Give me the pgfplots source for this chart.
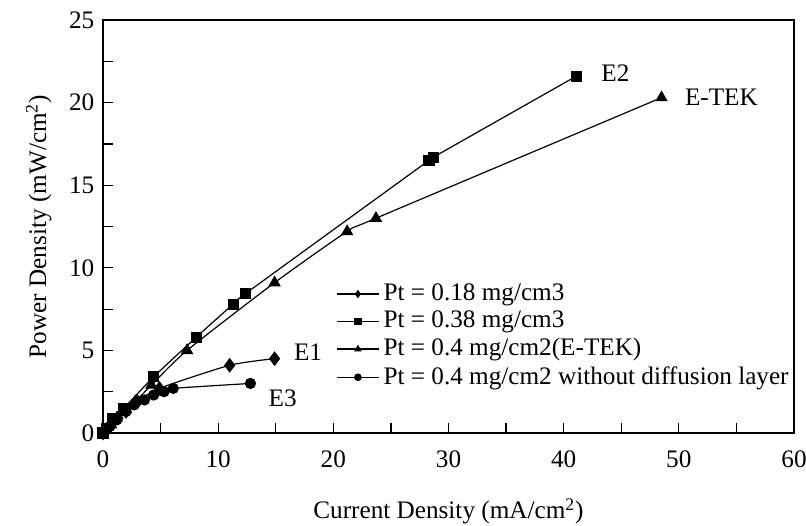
\documentclass[border=0pt]{standalone}
\usepackage{pgfplots}
\pgfplotsset{compat=1.18}
\usepackage{fontspec}
\setmainfont{Liberation Serif}

% power density curves
\pgfplotstableread{
x y
0 0
0.3 0.2
0.7 0.5
1.3 0.9
2.0 1.3
3.0 1.9
4.9 2.7
11.0 4.1
14.9 4.5
}\eone
\pgfplotstableread{
x y
0 0
0.3 0.25
0.8 0.9
1.8 1.5
4.4 3.4
8.1 5.8
11.3 7.8
12.4 8.45
28.3 16.5
28.7 16.7
41.1 21.6
}\etwo
\pgfplotstableread{
x y
0 0
0.3 0.2
0.7 0.5
1.2 0.9
2.0 1.4
2.8 1.9
4.2 2.9
7.3 5.0
14.9 9.1
21.2 12.2
23.7 13.0
48.5 20.3
}\etek
\pgfplotstableread{
x y
0 0
0.2 0.15
0.6 0.4
1.2 0.8
2.0 1.3
2.7 1.7
3.6 2.0
4.4 2.3
5.3 2.5
6.1 2.7
12.8 3.0
}\ethree

\def\chartfont{\fontsize{12.6}{14}\selectfont}

\begin{document}
\chartfont
\begin{tikzpicture}
\useasboundingbox (0,0) rectangle (403pt,262.5pt);
\begin{axis}[
  at={(51.5pt,46pt)}, anchor=south west,
  scale only axis,
  width=345.5pt, height=206.5pt,
  xmin=0, xmax=60, ymin=0, ymax=25,
  xtick={0,10,...,60}, ytick={0,5,...,25},
  minor x tick num=1, minor y tick num=1,
  xtick pos=bottom, ytick pos=left,
  tick align=inside,
  major tick length=5pt, minor tick length=5pt,
  tick style={black, line width=0.6pt},
  axis line style={line width=0.6pt},
  /pgf/number format/assume math mode=true,
  tick label style={font=\chartfont},
  xticklabel style={yshift=-4.5pt},
  label style={font=\chartfont},
  xlabel={Current Density (mA/cm\textsuperscript{2})},
  ylabel={Power Density (mW/cm\textsuperscript{2})},
  xlabel style={at={(axis description cs:0.5,-0.19)}, anchor=center},
  ylabel style={at={(axis description cs:-0.093,0.5)}, anchor=center},
  legend style={draw=none, fill=none, at={(rel axis cs:0.337,0.372)}, anchor=north west,
    font=\chartfont, row sep=-0.6pt, inner sep=0pt},
  legend cell align=left,
  legend image code/.code={\draw[mark repeat=2, mark phase=2, mark size=1.6pt]
    plot coordinates {(0cm,0cm) (0.37cm,0cm) (0.74cm,0cm)};},
  every axis plot/.append style={black, line width=0.6pt, smooth, tension=0.4,
    mark options={solid, fill=black}},
]
\addplot[mark=diamond*, mark size=3.2pt] table {\eone};
\addplot[mark=square*, mark size=2.5pt] table {\etwo};
\addplot[mark=triangle*, mark size=3pt] table {\etek};
\addplot[mark=*, mark size=2.5pt] table {\ethree};
\legend{Pt = 0.18 mg/cm3, Pt = 0.38 mg/cm3, Pt = 0.4 mg/cm2(E-TEK), Pt = 0.4 mg/cm2 without diffusion layer}
\node at (axis cs:44.5,21.8) {E2};
\node at (axis cs:53.7,20.3) {E-TEK};
\node at (axis cs:17.8,4.9) {E1};
\node at (axis cs:15.6,2.1) {E3};
\end{axis}
\end{tikzpicture}
\end{document}
